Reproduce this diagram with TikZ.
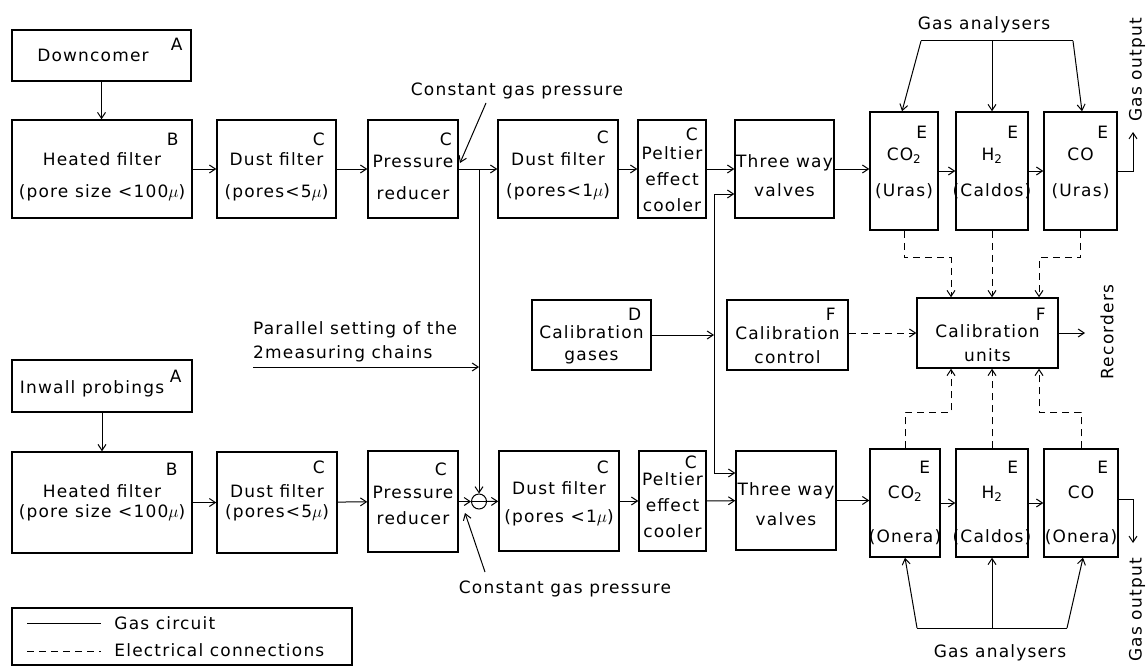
\documentclass[tikz,border=0pt]{standalone}
\usepackage{fontspec}
\setmainfont{DejaVu Sans}[LetterSpace=7]
\usetikzlibrary{arrows.meta,calc}
\newcommand\pushdown[1]{\rule{0pt}{#1}}
\begin{document}
\begin{tikzpicture}[x=1pt,y=-1pt,
  every node/.style={font=\fontsize{17}{29}\selectfont},
  box/.style={draw,line width=1.5pt,inner sep=1pt,align=center},
  tag/.style={inner sep=0pt},
  ln/.style={line width=1pt},
  gas/.style={ln,-{Straight Barb[length=6pt,width=8pt]}},
  elec/.style={ln,dash pattern=on 7pt off 5pt,-{Straight Barb[length=6pt,width=8pt]}},
  edash/.style={ln,dash pattern=on 7pt off 5pt},
  txt/.style={inner sep=0pt,align=center}]
\useasboundingbox (0,0) rectangle (1147,666);
% ---------- upper chain ----------
\node[box,minimum width=179pt,minimum height=51pt] (down1) at (101.5,55.5) {Downcomer\hspace{17pt}};
\node[box,minimum width=180pt,minimum height=98pt] (hf1) at (102,169) {\pushdown{28.5pt}Heated filter\\[3pt]\makebox[172pt][c]{(pore size <100$\mu$)}};
\node[box,minimum width=119pt,minimum height=98pt] (df1) at (276.5,169) {\pushdown{28.5pt}Dust filter\\[3pt]\makebox[112pt][c]{(pores<5$\mu$)}};
\node[box,minimum width=90pt,minimum height=98pt] (pr1) at (413,169) {\pushdown{28.5pt}Pressure\\[3pt]reducer};
\node[box,minimum width=120pt,minimum height=98pt] (dg1) at (558,169) {\pushdown{28.5pt}Dust filter\\[2pt](pores<1$\mu$)};
\node[box,minimum width=68pt,minimum height=98pt] (pe1) at (672,169) {\pushdown{32.5pt}Peltier\\[-3pt]effect\\[-3pt]cooler};
\node[box,minimum width=99pt,minimum height=98pt] (tw1) at (784.5,169) {\pushdown{26.5pt}\makebox[95pt][c]{Three way}\\valves};
\node[box,minimum width=68pt,minimum height=118pt] (an1) at (904,171) {\pushdown{16.5pt}CO\textsubscript{2}\\[7pt]\makebox[64pt][c]{(Uras)}};
\node[box,minimum width=72pt,minimum height=118pt] (an2) at (992,171) {\pushdown{16.5pt}H\textsubscript{2}\\[7pt]\makebox[68pt][c]{(Caldos)}};
\node[box,minimum width=73pt,minimum height=118pt] (an3) at (1080.5,171) {\pushdown{16.5pt}CO\\[7pt]\makebox[68pt][c]{(Uras)}};
% ---------- middle ----------
\node[box,minimum width=119pt,minimum height=70pt] (cg) at (591.5,335) {\pushdown{32.5pt}Calibration\\[-7pt]gases};
\node[box,minimum width=121pt,minimum height=70pt] (cc) at (787.5,335) {\pushdown{32.5pt}Calibration\\[-5pt]control};
\node[box,minimum width=141pt,minimum height=70pt] (cu) at (987.5,333) {\pushdown{32.5pt}Calibration\\[-5pt]units};
% ---------- lower chain ----------
\node[box,minimum width=180pt,minimum height=52pt] (in2) at (102,386) {\pushdown{18pt}Inwall probings\hspace{20pt}};
\node[box,minimum width=180pt,minimum height=101pt] (hf2) at (102,502.5) {Heated filter\\[-9pt]\makebox[172pt][c]{(pore size <100$\mu$)}};
\node[box,minimum width=120pt,minimum height=101pt] (df2) at (277,502.5) {Dust filter\\[-9pt]\makebox[112pt][c]{(pores<5$\mu$)}};
\node[box,minimum width=90pt,minimum height=101pt] (pr2) at (413,501.5) {\pushdown{19.5pt}Pressure\\[-3pt]reducer};
\node[box,minimum width=120pt,minimum height=100pt] (dg2) at (559,501) {\pushdown{18.5pt}Dust filter\\[-1pt]\makebox[112pt][c]{(pores <1$\mu$)}};
\node[box,minimum width=67pt,minimum height=100pt] (pe2) at (672.5,501) {\pushdown{20.5pt}Peltier\\[-3pt]effect\\[-3pt]cooler};
\node[box,minimum width=100pt,minimum height=99pt] (tw2) at (786,500.5) {\pushdown{20.5pt}\makebox[96pt][c]{Three way}\\[1pt]valves};
\node[box,minimum width=70pt,minimum height=108pt] (bn1) at (905,503) {\pushdown{36.5pt}CO\textsubscript{2}\\[15pt]\makebox[66pt][c]{(Onera)}};
\node[box,minimum width=72pt,minimum height=108pt] (bn2) at (992,503) {\pushdown{36.5pt}H\textsubscript{2}\\[15pt]\makebox[68pt][c]{(Caldos)}};
\node[box,minimum width=74pt,minimum height=108pt] (bn3) at (1081,503) {\pushdown{36.5pt}CO\\[15pt]\makebox[68pt][c]{(Onera)}};
% ---------- tags ----------
\node[tag] (t-down1) at ($(down1.north east)+(-15,15)$) {A};
\node[tag] (t-hf1) at ($(hf1.north east)+(-20,20)$) {B};
\node[tag] (t-df1) at ($(df1.north east)+(-18,20)$) {C};
\node[tag] (t-pr1) at ($(pr1.north east)+(-13,20)$) {C};
\node[tag] (t-dg1) at ($(dg1.north east)+(-16,18)$) {C};
\node[tag] (t-pe1) at ($(pe1.north east)+(-15,15)$) {C};
\node[tag] (t-an1) at ($(an1.north east)+(-17,21)$) {E};
\node[tag] (t-an2) at ($(an2.north east)+(-16,21)$) {E};
\node[tag] (t-an3) at ($(an3.north east)+(-15,21)$) {E};
\node[tag] (t-cg) at ($(cg.north east)+(-17,15)$) {D};
\node[tag] (t-cc) at ($(cc.north east)+(-18,15)$) {F};
\node[tag] (t-cu) at ($(cu.north east)+(-18,17)$) {F};
\node[tag] (t-in2) at ($(in2.north east)+(-17,17)$) {A};
\node[tag] (t-hf2) at ($(hf2.north east)+(-21,18)$) {B};
\node[tag] (t-df2) at ($(df2.north east)+(-19,16)$) {C};
\node[tag] (t-pr2) at ($(pr2.north east)+(-18,19)$) {C};
\node[tag] (t-dg2) at ($(dg2.north east)+(-17,17)$) {C};
\node[tag] (t-pe2) at ($(pe2.north east)+(-16,12)$) {C};
\node[tag] (t-bn1) at ($(bn1.north east)+(-16,19)$) {E};
\node[tag] (t-bn2) at ($(bn2.north east)+(-16,19)$) {E};
\node[tag] (t-bn3) at ($(bn3.north east)+(-16,19)$) {E};
% ---------- upper gas circuit ----------
\draw[gas] (down1.south) -- (down1.south |- hf1.north);
\draw[gas] (hf1) -- (df1);
\draw[gas] (df1) -- (pr1);
\draw[gas] (pr1) -- (dg1);
\draw[gas] (dg1) -- (pe1);
\draw[gas] (pe1) -- (tw1);
\draw[gas] (tw1.east) -- (tw1.east -| an1.west);
\draw[gas] (an1.east |- an2) -- (an2);
\draw[gas] (an2) -- (an3);
\coordinate (go1) at (1133,132);
\draw[gas] (an3.east) -- (an3.east -| go1) -- (go1);
\node[txt,rotate=90] (go1t) at (1137,70) {Gas output};
\node[txt] (ga1) at (984,25) {Gas analysers};
\coordinate (gl1) at (921,41);
\coordinate (gm1) at (992,41);
\coordinate (gr1) at (1073,41);
\draw[ln] (gl1) -- (gr1);
\draw[gas] (gl1) -- ($(an1.north)+(-2,0)$);
\draw[gas] (gm1) -- (an2.north);
\draw[gas] (gr1) -- ($(an3.north)+(1.5,0)$);
\node[txt] (ct1) at (517,91) {Constant gas pressure};
\coordinate (ct1a) at (486,103);
\coordinate (ct1b) at (460,163);
\draw[gas] (ct1a) -- (ct1b);
% ---------- lower gas circuit ----------
\draw[gas] (in2.south) -- (in2.south |- hf2.north);
\draw[gas] (hf2) -- (df2);
\draw[gas] (df2) -- (pr2);
\node[circle,draw,line width=1pt,minimum size=15pt,inner sep=0pt] (mix) at (479,501.5) {};
\draw[ln] (mix.west) -- (mix.east);
\draw[gas] (pr2) -- (mix);
\draw[gas] (mix) -- (dg2);
\draw[gas] (dg2) -- (pe2);
\draw[gas] (pe2) -- (tw2);
\draw[gas] (tw2) -- (tw2 -| bn1.west);
\draw[gas] (bn1.east |- bn2) -- (bn2);
\draw[gas] (bn2) -- (bn3);
\coordinate (go2) at (1133,543);
\draw[gas] ($(bn3.east)+(0,-4)$) -- ($(bn3.east -| go2)+(0,-4)$) -- (go2);
\node[txt,rotate=90] (go2t) at (1137,610) {Gas output};
\node[txt] (ga2) at (1000,653) {Gas analysers};
\coordinate (gl2) at (917,628);
\coordinate (gm2) at (992,628);
\coordinate (gr2) at (1067,628);
\draw[ln] (gl2) -- (gr2);
\draw[gas] (gl2) -- (bn1.south);
\draw[gas] (gm2) -- (bn2.south);
\draw[gas] (gr2) -- ($(bn3.south)+(2,0)$);
\node[txt] (ct2) at (565,589) {Constant gas pressure};
\coordinate (ct2a) at (485,572);
\coordinate (ct2b) at (465,513);
\draw[gas] (ct2a) -- (ct2b);
% ---------- cross connections ----------
\coordinate (j1) at (479,169);
\draw[gas] (j1) -- (mix.north);
\node[anchor=south west,align=left,inner sep=0pt] (par) at (253,362) {Parallel setting of the\\[-5pt]2measuring chains};
\coordinate (parL) at (253,367);
\draw[gas] (parL) -- (parL -| j1);
\coordinate (vtop) at (714,194);
\coordinate (vbot) at (714,473);
\draw[gas] (vtop) -- (vtop -| tw1.west);
\draw[ln] (vtop) -- (vbot);
\draw[gas] (vbot) -- (vbot -| tw2.west);
\draw[gas] (cg.east) -- (cg.east -| vtop);
% ---------- electrical ----------
\draw[elec] (cc.east |- cu) -- (cu.west);
\draw[elec] (an1.south) -- ++(0,27) -| ($(cu.north)+(-36.5,0)$);
\draw[elec] (an2.south) -- (an2.south |- cu.north);
\draw[elec] (an3.south) -- ++(0,27) -| ($(cu.north)+(51.5,0)$);
\draw[elec] (bn1.north) -- ++(0,-36) -| ($(cu.south)+(-36.5,0)$);
\draw[elec] (bn2.north) -- (bn2.north |- cu.south);
\draw[elec] (bn3.north) -- ++(0,-36) -| ($(cu.south)+(51.5,0)$);
\coordinate (rec) at (1085,333);
\draw[gas] (cu.east) -- (rec);
\node[txt,rotate=90] (rect) at (1107,332) {Recorders};
% ---------- legend ----------
\node[draw,line width=1.5pt,minimum width=340pt,minimum height=57pt,inner sep=0pt] (leg) at (182,636.5) {};
\draw[ln] ($(leg.north west)+(16,16)$) coordinate (l1a) -- ++(74,0) coordinate (l1b);
\node[anchor=west,inner sep=0pt] (l1t) at ($(l1b)+(13,0)$) {Gas circuit};
\draw[edash] ($(leg.north west)+(16,44)$) coordinate (l2a) -- ++(74,0) coordinate (l2b);
\node[anchor=west,inner sep=0pt] (l2t) at ($(l2b)+(13,-1)$) {Electrical connections};
\end{tikzpicture}
\end{document}
